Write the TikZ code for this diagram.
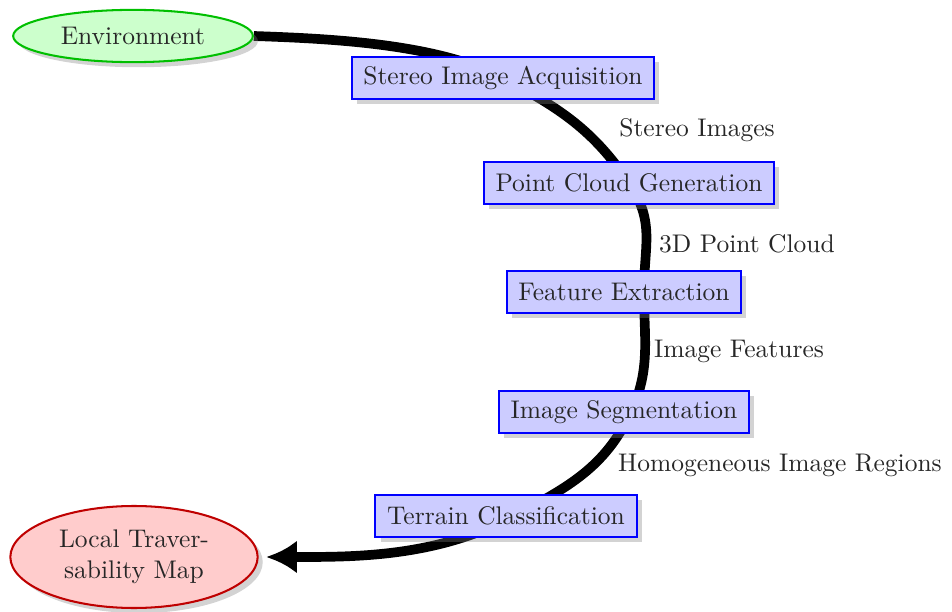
\documentclass[tikz,border=0pt]{standalone}
\usetikzlibrary{shapes.geometric,shadows,arrows.meta,backgrounds,calc}
\begin{document}
\begin{tikzpicture}[x=0.3922pt,y=0.3922pt,
  stage/.style={rectangle,draw=blue,fill=blue!20,line width=0.8pt,minimum height=16.5pt,inner xsep=4.6pt,inner ysep=3.3pt,text=black!85,
    drop shadow={shadow xshift=2pt,shadow yshift=-2pt,opacity=0.35}},
  startnode/.style={ellipse,draw=green!75!black,fill=green!20,line width=0.8pt,minimum width=94pt,minimum height=20.5pt,inner sep=0pt,text=black!85,
    drop shadow={shadow xshift=2pt,shadow yshift=-2pt,opacity=0.35}},
  endnode/.style={ellipse,draw=red!75!black,fill=red!20,line width=0.8pt,minimum width=97pt,minimum height=40pt,inner sep=0pt,align=center,text=black!85,
    drop shadow={shadow xshift=2pt,shadow yshift=-2pt,opacity=0.35}},
  lbl/.style={inner sep=0pt,text=black!85},
  flow/.style={line width=3.8pt,-{Latex[length=12pt,width=13pt]}}]
\useasboundingbox (0,0) rectangle (952,611);
\node[startnode] (env) at (133,575) {Environment};
\node[stage] (sia) at (503,533) {Stereo Image Acquisition};
\node[stage] (pcg) at (629,428) {Point Cloud Generation};
\node[stage] (fe) at (624,319) {Feature Extraction};
\node[stage] (is) at (624,199) {Image Segmentation};
\node[stage] (tc) at (506,95) {Terrain Classification};
\node[endnode] (ltm) at (134,54) {Local Traver-\\sability Map};
\node[lbl] (l1) at (697,481) {Stereo Images};
\node[lbl] (l2) at (747,367) {3D Point Cloud};
\node[lbl] (l3) at (739,260) {Image Features};
\node[lbl] (l4) at (780,146) {Homogeneous Image Regions};
\begin{pgfonlayer}{background}
\draw[flow] (env.east) to[out=-2,in=152,looseness=0.75] (sia.center)
  to[out=-28,in=124] (pcg.center)
  to[out=-56,in=90,looseness=1.1] ($(fe.center)+(20,0)$)
  to[out=-90,in=65] ($(is.center)+(7,0)$)
  to[out=-115,in=28] ($(tc.center)+(8,0)$)
  to[out=-152,in=0,looseness=0.9] ([xshift=3pt]ltm.east);
\end{pgfonlayer}
\end{tikzpicture}
\end{document}
